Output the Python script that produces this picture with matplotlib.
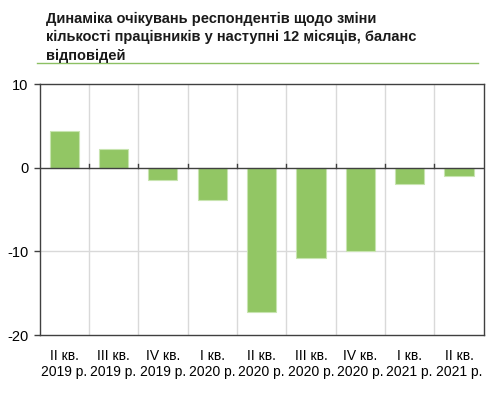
import matplotlib
matplotlib.use("Agg")
import matplotlib.pyplot as plt
from matplotlib.lines import Line2D

plt.rcParams['font.family'] = ['Liberation Sans', 'DejaVu Sans']

categories = ["II кв.\n2019 р.", "III кв.\n2019 р.", "IV кв.\n2019 р.", "I кв.\n2020 р.",
              "II кв.\n2020 р.", "III кв.\n2020 р.", "IV кв.\n2020 р.", "I кв.\n2021 р.",
              "II кв.\n2021 р."]
values = [4.4, 2.2, -1.5, -3.8, -17.2, -10.8, -9.9, -1.9, -1.0]
title = "Динаміка очікувань респондентів щодо зміни\nкількості працівників у наступні 12 місяців, баланс\nвідповідей"

W, H = 494, 394
fig = plt.figure(figsize=(W/100, H/100), dpi=100)
ax = fig.add_axes([39.5/W, 1-335/H, (483.7-39.5)/W, (335-84.3)/H])

n = len(values)
x = list(range(n))
ax.bar(x, values, width=0.59, color='#92c664', edgecolor='#c8e4b0', linewidth=0.8, zorder=3)

ax.set_xlim(-0.5, n-0.5)
ax.set_ylim(-20, 10)
ax.set_yticks([-20, -10, 0, 10])
ax.set_yticklabels(['-20', '-10', '0', '10'], fontsize=10.5)

# vertical gridlines at category boundaries
for b in range(1, n):
    ax.axvline(b-0.5, color='#d9d9d9', lw=1, zorder=1)
ax.axhline(-10, color='#d9d9d9', lw=1, zorder=1)
ax.axhline(0, color='#404040', lw=1, zorder=4)
for b in range(1, n):
    ax.plot([b-0.5, b-0.5], [0, 0.45], color='#404040', lw=1, zorder=4)

ax.set_xticks(x)
ax.set_xticklabels(categories, fontsize=10, linespacing=1.2)
ax.tick_params(axis='x', length=0, pad=10)
ax.tick_params(axis='y', length=4, width=1, color='#404040', pad=4, direction='out')
for s in ax.spines.values():
    s.set_color('#404040')
    s.set_linewidth(1)

fig.text(46/W, 1-12/H, title, fontsize=10.5, fontweight='bold', va='top', ha='left',
         linespacing=1.38, color='#1a1a1a')
fig.add_artist(Line2D([37/W, 478/W], [1-62.5/H, 1-62.5/H], color='#8cc063', lw=1))

fig.savefig('out.png', dpi=100)
